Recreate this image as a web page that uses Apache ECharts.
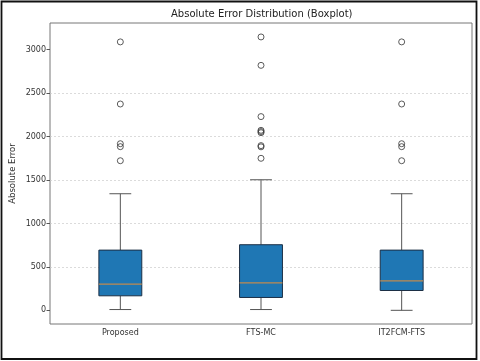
<!DOCTYPE html>
<html>
<head>
<meta charset="utf-8">
<script src="https://cdn.jsdelivr.net/npm/echarts@6/dist/echarts.min.js"></script>
<style>
  html, body { margin: 0; padding: 0; background: #fff; }
  #chart { width: 480px; height: 361px; }
</style>
</head>
<body>
<div id="chart"></div>
<script>
const categories = ['Proposed', 'FTS-MC', 'IT2FCM-FTS'];
const whiskerLow = [9, 9, 0];
const q1 = [167, 148, 228];
const median = [302, 317, 340];
const q3 = [693, 755, 693];
const whiskerHigh = [1342, 1503, 1342];
const proposedOutliers = [3090, 2375, 1918, 1884, 1722];
const ftsmcOutliers = [3147, 2820, 2230, 2072, 2058, 2045, 1896, 1882, 1750];
const it2fcmOutliers = [3090, 2375, 1918, 1884, 1722];
const yTicks = [0, 500, 1000, 1500, 2000, 2500, 3000];

const chart = echarts.init(document.getElementById('chart'));

const boxData = categories.map((c, i) => [i, whiskerLow[i], q1[i], median[i], q3[i], whiskerHigh[i]]);
const outlierData = [];
[proposedOutliers, ftsmcOutliers, it2fcmOutliers].forEach((list, i) => {
  list.forEach((v) => outlierData.push([i, v]));
});

function renderBox(params, api) {
  const i = api.value(0);
  const low = api.coord([i, api.value(1)]);
  const lo = api.coord([i, api.value(2)]);
  const med = api.coord([i, api.value(3)]);
  const hi = api.coord([i, api.value(4)]);
  const high = api.coord([i, api.value(5)]);
  const band = api.size([1, 0])[0];
  const bw = band * 0.305;
  const cw = band * 0.155;
  const x = low[0];
  const whisker = { stroke: '#555', lineWidth: 1, fill: null };
  return {
    type: 'group',
    children: [
      { type: 'line', shape: { x1: x, y1: hi[1], x2: x, y2: high[1] }, style: whisker },
      { type: 'line', shape: { x1: x, y1: low[1], x2: x, y2: lo[1] }, style: whisker },
      { type: 'line', shape: { x1: x - cw / 2, y1: high[1], x2: x + cw / 2, y2: high[1] }, style: whisker },
      { type: 'line', shape: { x1: x - cw / 2, y1: low[1], x2: x + cw / 2, y2: low[1] }, style: whisker },
      { type: 'rect', shape: { x: x - bw / 2, y: hi[1], width: bw, height: lo[1] - hi[1] },
        style: { fill: '#1f77b4', stroke: '#1c2f45', lineWidth: 1 } },
      { type: 'line', shape: { x1: x - bw / 2, y1: med[1], x2: x + bw / 2, y2: med[1] },
        style: { stroke: '#c08a4f', lineWidth: 1.2 } }
    ]
  };
}

chart.setOption({
  animation: false,
  textStyle: { fontFamily: 'DejaVu Sans' },
  title: {
    text: 'Absolute Error Distribution (Boxplot)',
    left: 171,
    top: 9,
    padding: 0,
    textStyle: { fontSize: 10, fontWeight: 'normal', color: '#222' }
  },
  grid: {
    left: 50,
    right: 8,
    top: 23,
    bottom: 37,
    outerBoundsMode: 'none',
    containLabel: false,
    show: true,
    borderColor: '#777',
    borderWidth: 1
  },
  xAxis: {
    type: 'category',
    data: categories,
    axisLine: { show: false },
    axisTick: { alignWithLabel: true, length: 3.5, lineStyle: { color: '#555' } },
    axisLabel: { fontSize: 8, color: '#333', margin: 5 },
    splitLine: { show: false }
  },
  yAxis: {
    type: 'value',
    min: -157.5,
    max: 3307.5,
    splitNumber: 7,
    name: 'Absolute Error',
    nameLocation: 'middle',
    nameRotate: 90,
    nameGap: 33,
    nameMoveOverlap: false,
    nameTextStyle: { fontSize: 8.5, color: '#333' },
    axisLine: { show: false },
    axisTick: { show: true, length: 3.5, customValues: yTicks, lineStyle: { color: '#555' } },
    axisLabel: { fontSize: 8, color: '#333', margin: 4, customValues: yTicks, formatter: (v) => String(v) },
    splitLine: {
      show: true,
      showMinLine: false,
      showMaxLine: false,
      lineStyle: { type: [2, 2], color: '#ccc', width: 0.7 }
    }
  },
  series: [
    {
      type: 'custom',
      renderItem: renderBox,
      encode: { x: 0, y: [1, 2, 3, 4, 5] },
      data: boxData,
      z: 3
    },
    {
      type: 'scatter',
      data: outlierData,
      symbol: 'circle',
      symbolSize: 6,
      itemStyle: { color: 'rgba(0,0,0,0)', borderColor: '#333', borderWidth: 1 },
      z: 4
    }
  ],
  graphic: [
    {
      type: 'rect',
      shape: { x: 1.5, y: 1.5, width: 475, height: 357.5 },
      style: { fill: 'none', stroke: '#111', lineWidth: 1.8 },
      z: 100
    }
  ]
});

window.addEventListener('resize', () => {
  chart.resize();
});
</script>
</body>
</html>
